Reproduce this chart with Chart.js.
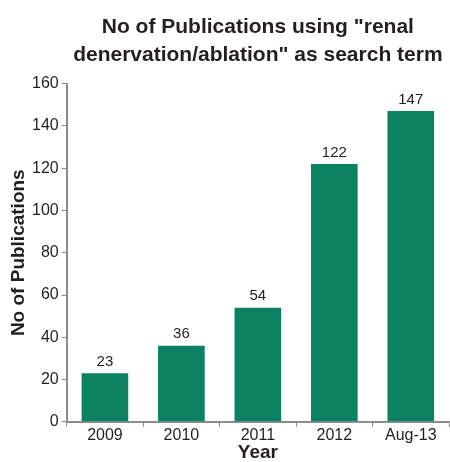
<!DOCTYPE html>
<html>
<head>
<meta charset="utf-8">
<script src="https://cdn.jsdelivr.net/npm/chart.js@4"></script>
<style>
  html, body { margin: 0; padding: 0; background: #fff; }
  #wrap { width: 450px; height: 462px; }
</style>
</head>
<body>
<div id="wrap"><canvas id="pubChart" width="450" height="462"></canvas></div>
<script>
// Data
const CATEGORIES = ['2009', '2010', '2011', '2012', 'Aug-13'];
const PUBLICATIONS = [23, 36, 54, 122, 147];
const Y_TICKS = [0, 20, 40, 60, 80, 100, 120, 140, 160];

const BAR_COLOR = '#0b8162';
const AXIS_COLOR = '#8c8c8c';
const TEXT_COLOR = '#231f20';
const FONT = "'Liberation Sans', Arial, sans-serif";

// draws the value above each bar
const valueLabels = {
    id: 'valueLabels',
    afterDatasetsDraw(chart) {
        const ctx = chart.ctx;
        const meta = chart.getDatasetMeta(0);
        ctx.save();
        ctx.font = '15px ' + FONT;
        ctx.fillStyle = TEXT_COLOR;
        ctx.textAlign = 'center';
        ctx.textBaseline = 'bottom';
        meta.data.forEach((bar, i) => {
            ctx.fillText(String(chart.data.datasets[0].data[i]), bar.x, bar.y - 4);
        });
        ctx.restore();
    }
};

Chart.defaults.font.family = FONT;

new Chart(document.getElementById('pubChart'), {
    type: 'bar',
    data: {
        labels: CATEGORIES,
        datasets: [{
            data: PUBLICATIONS,
            backgroundColor: BAR_COLOR,
            categoryPercentage: 0.61,
            barPercentage: 1.0
        }]
    },
    options: {
        responsive: false,
        animation: false,
        layout: { padding: { left: 9, right: 1, top: 0, bottom: 1 } },
        plugins: {
            legend: { display: false },
            tooltip: { enabled: false },
            title: {
                display: true,
                fullSize: false,
                text: ['No of Publications using "renal', 'denervation/ablation" as search term'],
                color: TEXT_COLOR,
                font: { family: FONT, size: 21, weight: 'bold', lineHeight: 1.3 },
                padding: { top: 14, bottom: 15 }
            }
        },
        scales: {
            x: {
                grid: {
                    display: true,
                    drawOnChartArea: false,
                    drawTicks: true,
                    tickLength: 5,
                    color: AXIS_COLOR
                },
                border: { display: true, color: AXIS_COLOR, width: 2 },
                ticks: {
                    color: TEXT_COLOR,
                    font: { family: FONT, size: 16, lineHeight: 1.0 },
                    padding: 1,
                    maxRotation: 0
                },
                title: {
                    display: true,
                    text: 'Year',
                    color: TEXT_COLOR,
                    font: { family: FONT, size: 19, weight: 'bold', lineHeight: 0.85 },
                    padding: { top: 0, bottom: 0 }
                }
            },
            y: {
                min: 0,
                max: 160,
                afterBuildTicks(scale) {
                    scale.ticks = Y_TICKS.map(v => ({ value: v }));
                },
                grid: {
                    display: true,
                    drawOnChartArea: false,
                    drawTicks: true,
                    tickLength: 5,
                    color: AXIS_COLOR
                },
                border: { display: true, color: AXIS_COLOR, width: 2 },
                ticks: {
                    color: TEXT_COLOR,
                    font: { family: FONT, size: 16 },
                    padding: 3
                },
                title: {
                    display: true,
                    text: 'No of Publications',
                    color: TEXT_COLOR,
                    font: { family: FONT, size: 19, weight: 'bold', lineHeight: 1.0 },
                    padding: { top: 0, bottom: 1 }
                }
            }
        }
    },
    plugins: [valueLabels]
});
</script>
</body>
</html>
